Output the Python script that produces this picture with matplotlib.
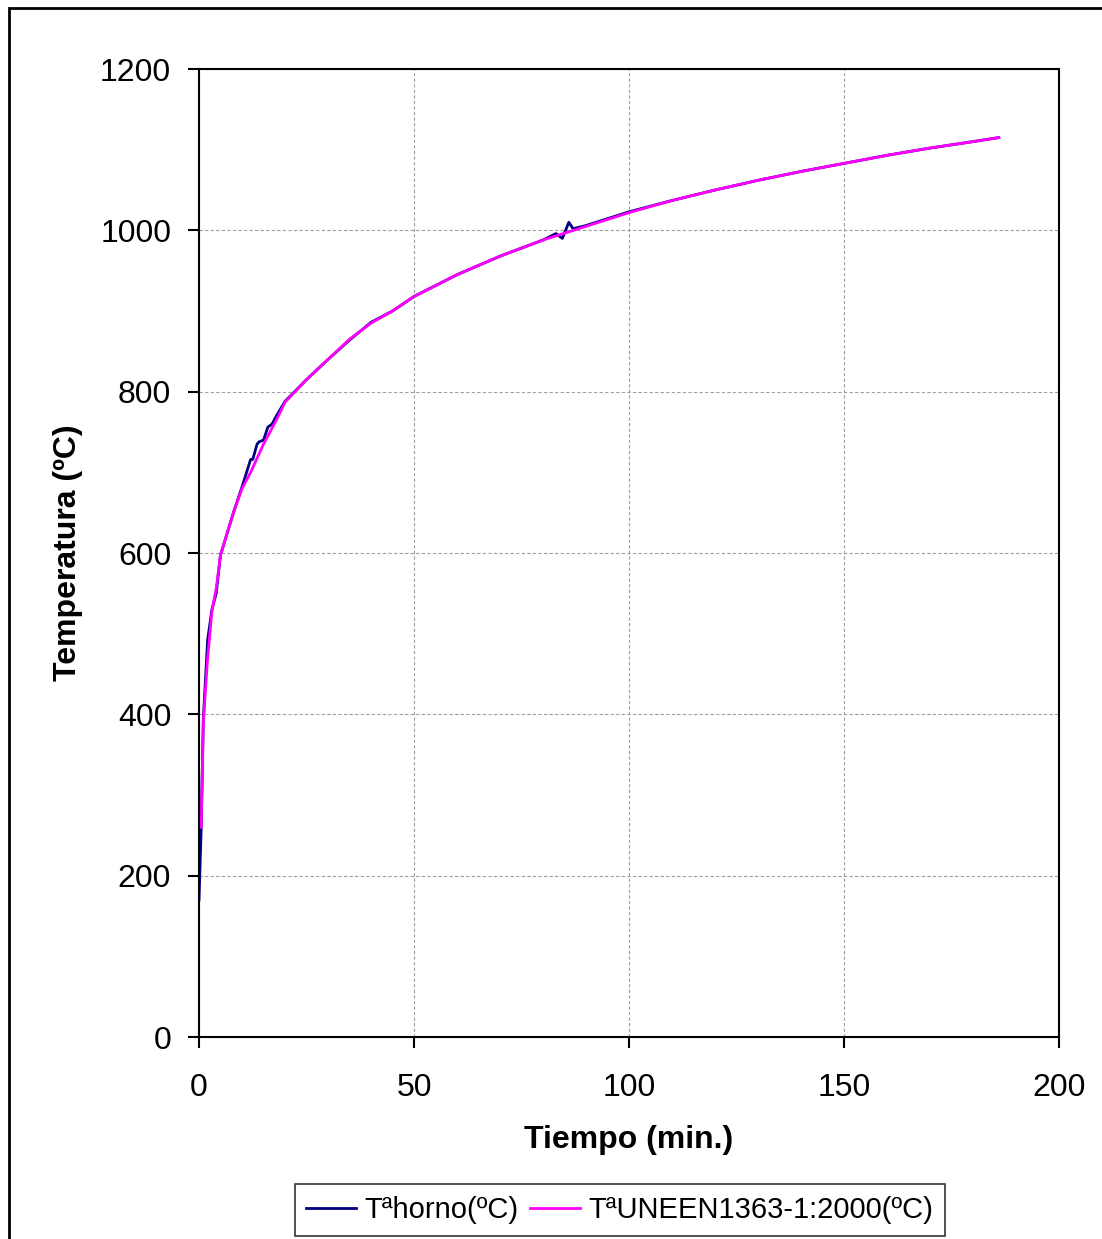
import matplotlib.pyplot as plt
from matplotlib.patches import Rectangle

plt.rcParams['font.family'] = ['Liberation Sans', 'DejaVu Sans']

# Tª UNE EN 1363-1:2000
t_norma = [0.5, 1, 2, 3, 4, 5, 6, 8, 10, 12, 15, 18, 20, 25, 30, 35, 40, 45, 50,
           60, 70, 80, 90, 100, 110, 120, 130, 140, 150, 160, 170, 180, 186]
T_norma = [260, 390, 470, 528, 556, 598, 615, 650, 680, 700, 735, 765, 787, 815, 840, 865, 885, 900, 918,
           945, 968, 988, 1005, 1022, 1037, 1050, 1062, 1073, 1083, 1093, 1102, 1110, 1115]

# Tª horno (furnace, measured)
t_horno = [0, 0.5, 1, 2, 3, 4, 5, 5.5, 6, 8, 10, 12, 12.5, 13.5, 14, 15, 16, 17, 18, 20,
           25, 30, 35, 40, 45, 50, 60, 70, 80, 83, 84.5, 86, 87, 90, 100, 110, 120, 130,
           140, 150, 160, 170, 180, 186]
T_horno = [170, 258, 395, 492, 530, 550, 598, 606, 615, 650, 682, 716, 716, 735, 738, 740, 756, 760, 770, 788,
           815, 840, 864, 886, 900, 918, 945, 968, 988, 996, 990, 1010, 1002, 1006, 1023, 1037, 1050, 1062,
           1073, 1083, 1093, 1102, 1110, 1115]

fig = plt.figure(figsize=(11.02, 12.39), dpi=100)
ax = fig.add_axes([0.1806, 0.1630, 0.7804, 0.7813])

ax.plot(t_horno, T_horno, color='#000080', lw=2, label='Tªhorno(ºC)')
ax.plot(t_norma, T_norma, color='#FF00FF', lw=2, label='TªUNEEN1363-1:2000(ºC)')

ax.set_xlim(0, 200)
ax.set_ylim(0, 1200)
ax.set_xticks(range(0, 201, 50))
ax.set_yticks(range(0, 1201, 200))
ax.grid(True, color='#a0a0a0', linestyle=(0, (3, 2)), lw=0.8)
ax.tick_params(labelsize=23, length=8, width=1.5)
ax.tick_params(axis='x', pad=18)
ax.tick_params(axis='y', pad=12)
for s in ax.spines.values():
    s.set_linewidth(1.5)

ax.set_xlabel('Tiempo (min.)', fontsize=23, fontweight='bold', labelpad=16)
ax.set_ylabel('Temperatura (ºC)', fontsize=23, fontweight='bold', labelpad=12)

leg = fig.legend(loc='center', bbox_to_anchor=(0.5625, 0.0235), ncol=2, fontsize=21,
                 frameon=True, fancybox=False, edgecolor='black', handlelength=1.7,
                 handletextpad=0.3, columnspacing=0.4, borderpad=0.4)
leg.get_frame().set_linewidth(1.2)

fig.patches.append(Rectangle((9 / 1102, -0.1), 1.2, 1 - 8 / 1239 + 0.1,
                             transform=fig.transFigure, fill=False,
                             edgecolor='black', lw=2))

fig.savefig('out.png', dpi=100)
